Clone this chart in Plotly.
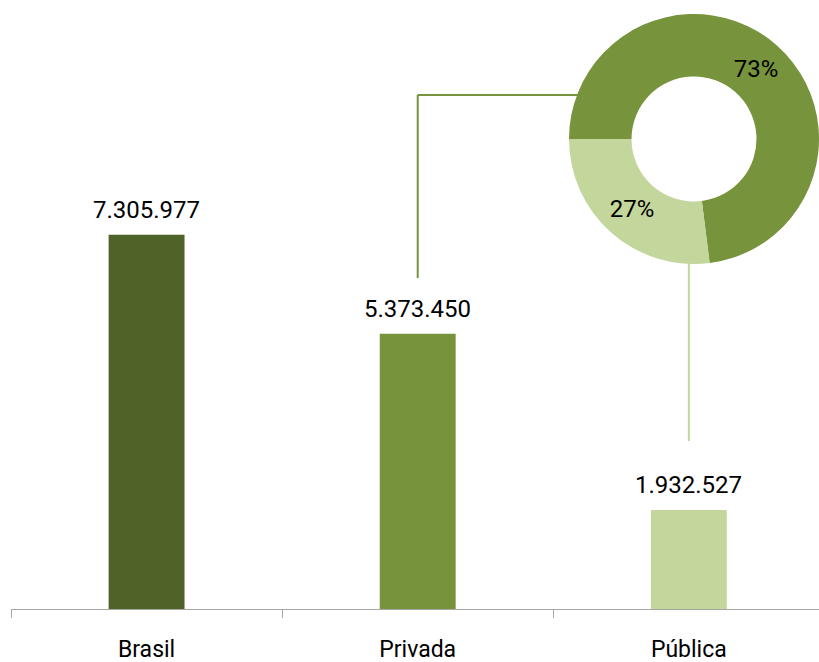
import plotly.graph_objects as go

# Matrículas por rede
categorias = ["Brasil", "Privada", "Pública"]
matriculas = [7305977, 5373450, 1932527]
cores_barras = ["#4f6228", "#77933c", "#c3d69b"]

# Participação de cada rede no total (rosca)
redes_rosca = ["Privada", "Pública"]
participacao = [73, 27]
cores_rosca = ["#77933c", "#c3d69b"]

FONTE = "Roboto, Liberation Sans, sans-serif"

fig = go.Figure()

fig.add_trace(go.Bar(
    x=categorias,
    y=matriculas,
    marker=dict(color=cores_barras, line=dict(width=0)),
    width=0.28,
    hoverinfo="x+y",
    showlegend=False,
))

fig.add_trace(go.Pie(
    labels=redes_rosca,
    values=participacao,
    marker=dict(colors=cores_rosca, line=dict(width=0)),
    hole=0.5,
    sort=False,
    direction="clockwise",
    rotation=270,
    texttemplate="%{value}%",
    textposition="inside",
    insidetextorientation="horizontal",
    textfont=dict(family=FONTE, size=24, color="#000000"),
    domain=dict(x=[558 / 808, 1.0], y=[0.5665, 0.977]),
    showlegend=False,
))

# Rótulos de valor sobre as barras
for cat, val in zip(categorias, matriculas):
    fig.add_annotation(
        x=cat, y=val, xref="x", yref="y",
        text=f"{val:,}".replace(",", "."),
        showarrow=False, yanchor="bottom", yshift=9,
        font=dict(family=FONTE, size=24, color="#000000"),
    )

# Conectores entre as barras e a rosca
fig.add_shape(type="line", xref="x", yref="paper",
              x0=1, x1=1, y0=1 - 278 / 609, y1=1 - 95 / 609,
              line=dict(color="#77933c", width=2))
fig.add_shape(type="line", xref="paper", yref="paper",
              x0=(417.5 - 11) / 808, x1=(580 - 11) / 808,
              y0=1 - 95 / 609, y1=1 - 95 / 609,
              line=dict(color="#77933c", width=2))
fig.add_shape(type="line", xref="x", yref="paper",
              x0=2, x1=2, y0=1 - 441 / 609, y1=1 - 262 / 609,
              line=dict(color="#c3d69b", width=2))

fig.update_layout(
    width=819, height=662,
    margin=dict(l=11, r=0, t=0, b=53),
    paper_bgcolor="white", plot_bgcolor="white",
    separators=",.",
    font=dict(family=FONTE, size=23, color="#000000"),
    xaxis=dict(
        range=[-0.5, 2.48],
        showline=True, linecolor="#a6a6a6", linewidth=1,
        ticks="outside", tickson="boundaries", ticklen=8,
        tickcolor="#a6a6a6", tickwidth=1,
        showgrid=False, zeroline=False,
        tickfont=dict(family=FONTE, size=23, color="#000000"),
        ticklabelstandoff=19,
        fixedrange=True,
    ),
    yaxis=dict(
        range=[0, 11.89e6],
        visible=False, showgrid=False, zeroline=False,
        fixedrange=True,
    ),
)

fig.write_html("out.html")
